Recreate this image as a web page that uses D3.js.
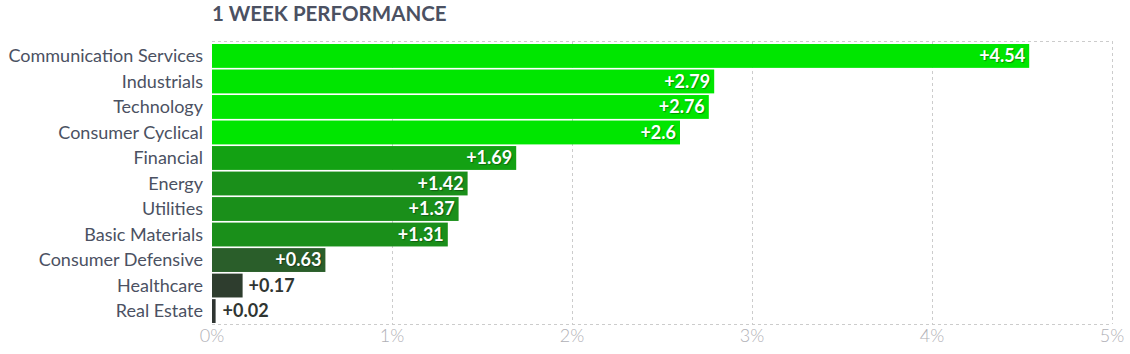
<!DOCTYPE html>
<html>
<head>
<meta charset="utf-8">
<script src="https://cdn.jsdelivr.net/npm/d3@7"></script>
<style>
  body { margin: 0; background: #fff; }
  svg { font-family: Lato, sans-serif; }
</style>
</head>
<body>
<div id="chart"></div>
<script>
let sectors = ['Communication Services', 'Industrials', 'Technology', 'Consumer Cyclical', 'Financial',
  'Energy', 'Utilities', 'Basic Materials', 'Consumer Defensive', 'Healthcare', 'Real Estate']
let changes = [4.54, 2.79, 2.76, 2.6, 1.69, 1.42, 1.37, 1.31, 0.63, 0.17, 0.02]
let ticks = [0, 1, 2, 3, 4, 5]

let width = 1130, height = 354
let svg = d3.select('#chart').append('svg').attr('width', width).attr('height', height)

let x = d3.scaleLinear().domain([0, 5]).range([212, 1112])
let y = d3.scaleBand().domain(sectors).range([43.5, 323.5]).paddingInner(0.065).paddingOuter(0.02)

// colour steps like the original, greener = stronger
let barColor = (v) => {
  if (v >= 2) return '#00e600'
  if (v >= 1.5) return '#13a113'
  if (v >= 1) return '#1a8f1a'
  if (v >= 0.5) return '#2a5e2a'
  if (v >= 0.1) return '#2e3d2e'
  return '#2f3532'
}

svg.append('text')
  .attr('x', 212).attr('y', 21)
  .attr('font-size', 20.5).attr('font-weight', 'bold').attr('fill', '#4b5162')
  .text('1 WEEK PERFORMANCE')

// grid
let grid = svg.append('g').attr('stroke', '#cccccc').attr('stroke-dasharray', '3,3').attr('stroke-width', 1)
grid.selectAll('line.v').data(ticks.slice(1)).enter().append('line')
  .attr('x1', d => Math.round(x(d)) + 0.5).attr('x2', d => Math.round(x(d)) + 0.5)
  .attr('y1', 41).attr('y2', 324)
grid.append('line').attr('x1', 212).attr('x2', 1112).attr('y1', 41.5).attr('y2', 41.5)
grid.append('line').attr('x1', 212).attr('x2', 1112).attr('y1', 324.5).attr('y2', 324.5)

// tick labels
svg.selectAll('text.tick').data(ticks).enter().append('text')
  .attr('class', 'tick')
  .attr('x', d => x(d)).attr('y', 342)
  .attr('text-anchor', 'middle').attr('font-size', 18).attr('font-weight', 300).attr('fill', '#b0b0b6')
  .text(d => d + '%')

// bars
svg.selectAll('rect.bar').data(changes).enter().append('rect')
  .attr('x', x(0))
  .attr('y', (d, i) => y(sectors[i]))
  .attr('width', d => Math.max(2, x(d) - x(0)))
  .attr('height', y.bandwidth())
  .attr('fill', d => barColor(d))

// category labels
svg.selectAll('text.cat').data(sectors).enter().append('text')
  .attr('x', 203).attr('y', d => y(d) + y.bandwidth() / 2)
  .attr('dy', '0.35em').attr('text-anchor', 'end')
  .attr('font-size', 18).attr('fill', '#4b5162')
  .text(d => d)

// value labels
svg.selectAll('text.val').data(changes).enter().append('text')
  .attr('x', d => d > 0.5 ? x(d) - 4 : x(d) + (d < 0.1 ? 7 : 6))
  .attr('y', (d, i) => y(sectors[i]) + y.bandwidth() / 2)
  .attr('dy', '0.35em')
  .attr('text-anchor', d => d > 0.5 ? 'end' : 'start')
  .attr('font-size', 18).attr('font-weight', 'bold')
  .attr('fill', d => d > 0.5 ? '#ffffff' : '#2f3532')
  .style('text-shadow', d => d > 0.5 ? '1px 1px 1px rgba(0,0,0,0.35)' : 'none')
  .text(d => '+' + d)
</script>
</body>
</html>
